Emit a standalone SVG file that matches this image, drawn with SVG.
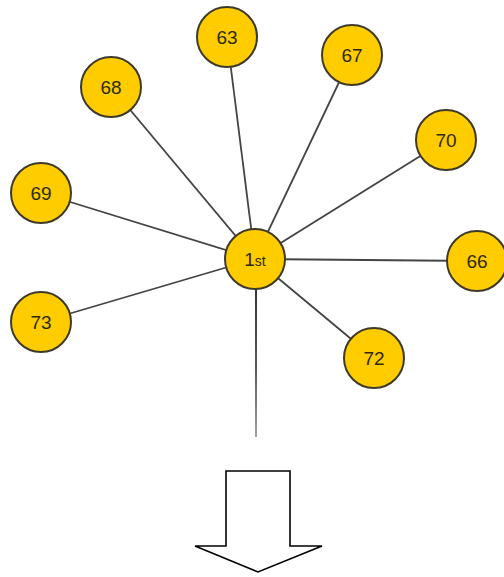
<svg xmlns="http://www.w3.org/2000/svg" width="504" height="577" viewBox="0 0 504 577">
  <defs>
    <linearGradient id="fade" x1="0" y1="0" x2="0" y2="1">
      <stop offset="0" stop-color="#333333"/>
      <stop offset="0.55" stop-color="#5a5a5a"/>
      <stop offset="1" stop-color="#a0a0a0"/>
    </linearGradient>
    <style>
      .node circle { fill: #ffcc00; stroke: #3d3a2a; stroke-width: 2; }
      .node text { font-family: "Liberation Sans", Arial, sans-serif; font-size: 19px; fill: #2e2a08; text-anchor: middle; }
      .edge { stroke: #444444; stroke-width: 1.8; fill: none; }
      .arrow { fill: #ffffff; stroke: #000000; stroke-width: 1.6; stroke-linejoin: miter; }
    </style>
  </defs>
  <rect width="504" height="577" fill="#ffffff"/>

  <g id="connectors">
    <line class="edge" x1="255" y1="259" x2="227" y2="37"/>
    <line class="edge" x1="255" y1="259" x2="352" y2="55"/>
    <line class="edge" x1="255" y1="259" x2="111" y2="87"/>
    <line class="edge" x1="255" y1="259" x2="446" y2="140"/>
    <line class="edge" x1="255" y1="259" x2="41" y2="193"/>
    <line class="edge" x1="255" y1="259" x2="476" y2="261"/>
    <line class="edge" x1="255" y1="259" x2="41" y2="322"/>
    <line class="edge" x1="255" y1="259" x2="374" y2="358"/>
    <rect x="255" y="285" width="2" height="152" fill="url(#fade)"/>
  </g>

  <g id="n63" class="node"><circle cx="227" cy="37" r="30"/><text x="227" y="44">63</text></g>
  <g id="n67" class="node"><circle cx="352" cy="55" r="30"/><text x="352" y="62">67</text></g>
  <g id="n68" class="node"><circle cx="111" cy="87" r="30"/><text x="111" y="94">68</text></g>
  <g id="n70" class="node"><circle cx="446" cy="140" r="30"/><text x="446" y="147">70</text></g>
  <g id="n69" class="node"><circle cx="41" cy="193" r="30"/><text x="41" y="200">69</text></g>
  <g id="n66" class="node"><circle cx="477" cy="261" r="30"/><text x="477" y="268">66</text></g>
  <g id="n73" class="node"><circle cx="41" cy="322" r="30"/><text x="41" y="329">73</text></g>
  <g id="n72" class="node"><circle cx="374" cy="358" r="30"/><text x="374" y="365">72</text></g>
  <g id="n1st" class="node"><circle cx="255" cy="259" r="30"/><text x="255" y="266">1<tspan font-size="14px">st</tspan></text></g>

  <g id="down-arrow">
    <polygon class="arrow" points="226,471 290,471 290,546 322,546 258,572 195,546 226,546"/>
  </g>
</svg>
